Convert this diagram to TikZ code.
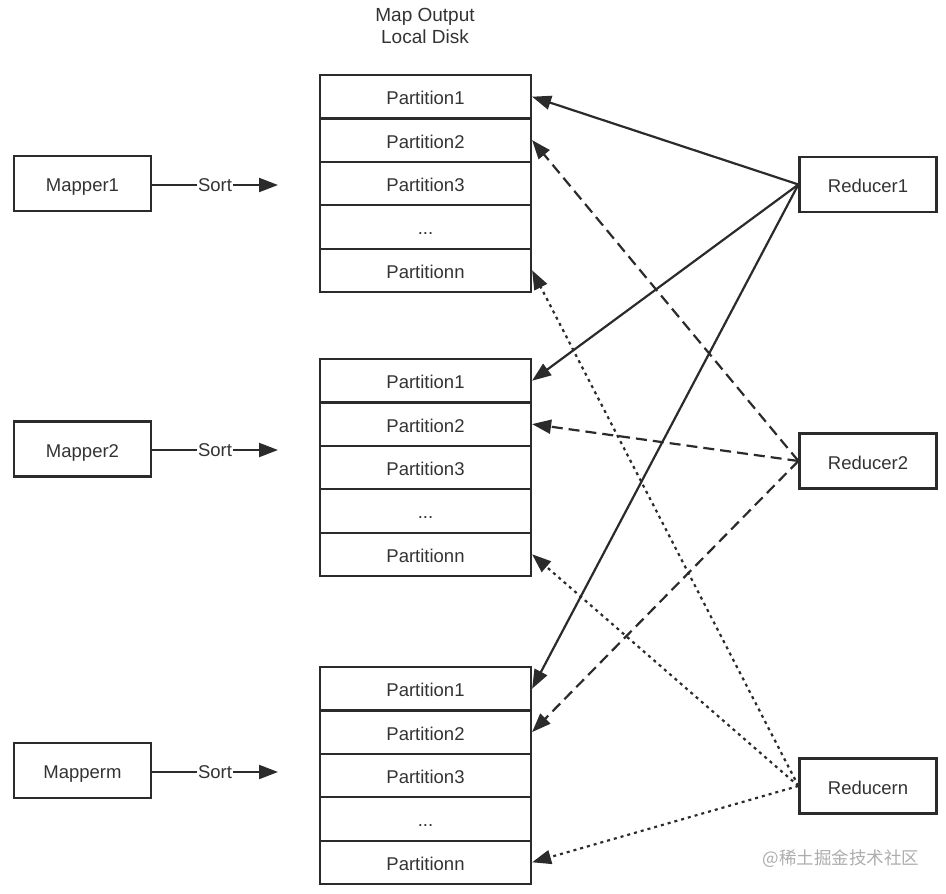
\documentclass[tikz,border=0pt]{standalone}
\usepackage{fontspec}
\setmainfont{Liberation Sans}
\newfontfamily\cjk{Noto Sans CJK SC}
\usetikzlibrary{arrows.meta}
\definecolor{ink}{HTML}{2B2B2B}
\definecolor{txt}{HTML}{333333}
\begin{document}
\begin{tikzpicture}[x=1pt,y=-1pt,
  lbl/.style={font=\fontsize{18.5}{22}\selectfont, text=txt},
  box/.style={lbl, draw=ink, line width=2.2pt, minimum width=137pt, minimum height=55pt, inner sep=0pt, text height=16pt, text depth=0pt},
  part/.style={lbl, draw=ink, line width=2.2pt, minimum width=211pt, minimum height=43.4pt, inner sep=0pt, text height=16pt, text depth=0pt},
  arr/.style={draw=ink, line width=2.2pt, -{Triangle[length=19pt,width=14pt]}},
  dashedline/.style={dash pattern=on 11pt off 6pt},
  dottedline/.style={dash pattern=on 3pt off 4pt}
]
\useasboundingbox (0,0) rectangle (946,894);

\node[lbl, font=\fontsize{19}{22}\selectfont, align=center] (title) at (425,26) {Map Output\\Local Disk};

% mappers
\node[box] (m1) at (82.5,183.5) {Mapper1};
\node[box] (m2) at (82.5,449) {Mapper2};
\node[box] (m3) at (82.5,770.5) {Mapperm};

% reducers
\node[box] (r1) at (868,184.5) {Reducer1};
\node[box] (r2) at (868,461) {Reducer2};
\node[box] (r3) at (868,786) {Reducern};

% stacks
\foreach \s/\top in {1/75, 2/359, 3/667} {
  \node[part] (s\s p1) at (425.5,\top+21.7) {Partition1};
  \node[part] (s\s p2) at (425.5,\top+65.1) {Partition2};
  \node[part] (s\s p3) at (425.5,\top+108.5) {Partition3};
  \node[part] (s\s p4) at (425.5,\top+151.9) {...};
  \node[part] (s\s p5) at (425.5,\top+195.3) {Partitionn};
}

% sort arrows
\coordinate (e1) at (278,185);
\coordinate (e2) at (278,450);
\coordinate (e3) at (278,772);
\draw[arr] (m1.east |- e1) -- node[lbl, fill=white, inner sep=1pt] (t1) {Sort} (e1);
\draw[arr] (m2.east |- e2) -- node[lbl, fill=white, inner sep=1pt] (t2) {Sort} (e2);
\draw[arr] (m3.east |- e3) -- node[lbl, fill=white, inner sep=1pt] (t3) {Sort} (e3);

% reducer 1 (solid)
\draw[arr] (r1.west) -- (s1p1.east);
\draw[arr] (r1.west) -- (s2p1.east);
\draw[arr] (r1.west) -- (s3p1.east);
% reducer 2 (dashed)
\draw[arr, dashedline] (r2.west) -- (s1p2.east);
\draw[arr, dashedline] (r2.west) -- (s2p2.east);
\draw[arr, dashedline] (r2.west) -- (s3p2.east);
% reducer n (dotted)
\draw[arr, dottedline] (r3.west) -- (s1p5.east);
\draw[arr, dottedline] (r3.west) -- (s2p5.east);
\draw[arr, dottedline] (r3.west) -- (s3p5.east);

\node[text=black!32, font=\cjk\fontsize{17.5}{20}\selectfont] (wm) at (841,859) {@稀土掘金技术社区};
\end{tikzpicture}
\end{document}
